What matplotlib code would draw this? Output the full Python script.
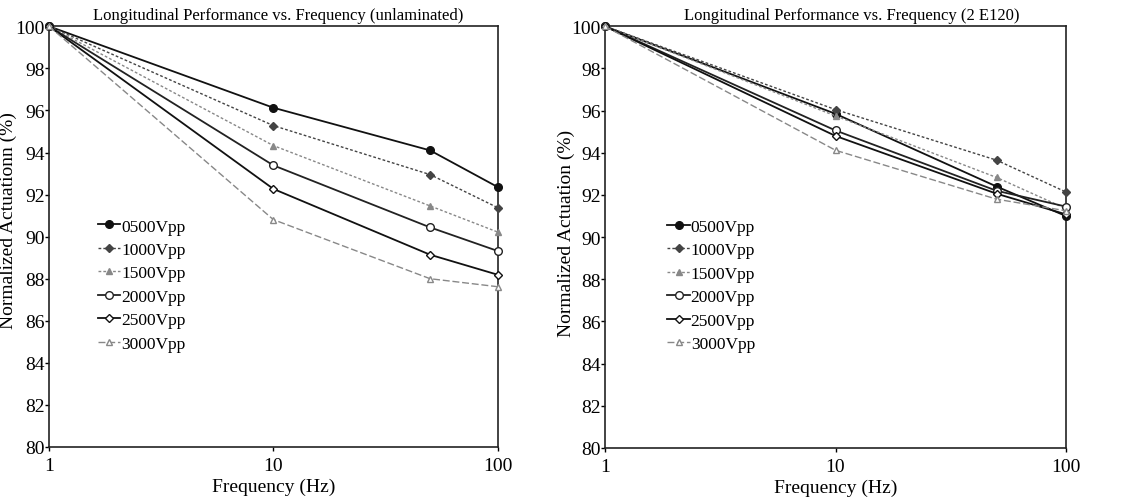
import matplotlib
matplotlib.use("Agg")
import matplotlib.pyplot as plt
from matplotlib.ticker import FixedLocator, NullLocator

plt.rcParams["font.family"] = ["Liberation Serif", "DejaVu Serif"]

# data
freq = [1, 10, 50, 100]
labels = ["0500Vpp", "1000Vpp", "1500Vpp", "2000Vpp", "2500Vpp", "3000Vpp"]

unlam_0500 = [100, 96.13, 94.10, 92.36]
unlam_1000 = [100, 95.28, 92.95, 91.38]
unlam_1500 = [100, 94.33, 91.46, 90.22]
unlam_2000 = [100, 93.39, 90.44, 89.32]
unlam_2500 = [100, 92.27, 89.14, 88.19]
unlam_3000 = [100, 90.81, 88.00, 87.62]

e120_0500 = [100, 95.85, 92.40, 91.00]
e120_1000 = [100, 96.05, 93.65, 92.14]
e120_1500 = [100, 95.75, 92.83, 91.35]
e120_2000 = [100, 95.06, 92.20, 91.45]
e120_2500 = [100, 94.80, 92.06, 91.08]
e120_3000 = [100, 94.12, 91.80, 91.25]

# marker / line style per voltage
STYLES = [
    dict(color="#111111", ls="-", marker="o", mfc="#111111", ms=5.5, lw=1.3),
    dict(color="#444444", ls=(0, (2, 1.5)), marker="D", mfc="#444444", ms=3.8, lw=1.0),
    dict(color="#888888", ls=(0, (2, 1.5)), marker="^", mfc="#888888", ms=4.5, lw=1.0),
    dict(color="#222222", ls="-", marker="o", mfc="white", ms=5.5, lw=1.3),
    dict(color="#111111", ls="-", marker="D", mfc="white", ms=4.2, lw=1.3),
    dict(color="#888888", ls=(0, (5, 2)), marker="^", mfc="white", ms=5, lw=1.0),
]


def draw(ax, series, title, title_x, ylabel, ylab_xy, leg_xy):
    for y, lab, st in zip(series, labels, STYLES):
        ax.plot(freq, y, label=lab, color=st["color"], linestyle=st["ls"],
                marker=st["marker"], markerfacecolor=st["mfc"],
                markeredgecolor=st["color"], markersize=st["ms"],
                linewidth=st["lw"], clip_on=False, zorder=3)
    ax.set_xscale("log")
    ax.set_xlim(1, 100)
    ax.set_ylim(80, 100)
    ax.xaxis.set_major_locator(FixedLocator([1, 10, 100]))
    ax.xaxis.set_minor_locator(NullLocator())
    ax.set_xticklabels(["1", "10", "100"])
    ax.set_yticks(range(80, 101, 2))
    ax.tick_params(axis="both", labelsize=14, direction="out", length=3,
                   width=1.0, pad=0)
    ax.tick_params(axis="x", pad=4)
    for sp in ax.spines.values():
        sp.set_linewidth(1.2)
        sp.set_color("#222222")
    ax.set_title(title, fontsize=12, pad=5, x=title_x)
    ax.set_xlabel("Frequency (Hz)", fontsize=14, labelpad=3)
    ax.set_ylabel(ylabel, fontsize=14)
    ax.yaxis.set_label_coords(*ylab_xy)
    ax.legend(loc="upper left", bbox_to_anchor=leg_xy, frameon=False,
              fontsize=12.5, handlelength=1.3, handletextpad=0.05,
              labelspacing=0.42, borderaxespad=0)


fig = plt.figure(figsize=(11.3, 5.02), dpi=100)
ax1 = fig.add_axes([0.0434, 0.1076, 0.397, 0.838])
ax2 = fig.add_axes([0.5354, 0.1056, 0.408, 0.840])

draw(ax1, [unlam_0500, unlam_1000, unlam_1500, unlam_2000, unlam_2500, unlam_3000],
     "Longitudinal Performance vs. Frequency (unlaminated)", 0.51,
     "Normalized Actuationn (%)", (-0.072, 0.54), (0.093, 0.56))
draw(ax2, [e120_0500, e120_1000, e120_1500, e120_2000, e120_2500, e120_3000],
     "Longitudinal Performance vs. Frequency (2 E120)", 0.535,
     "Normalized Actuation (%)", (-0.066, 0.51), (0.12, 0.56))

fig.savefig("out.png", dpi=100)
